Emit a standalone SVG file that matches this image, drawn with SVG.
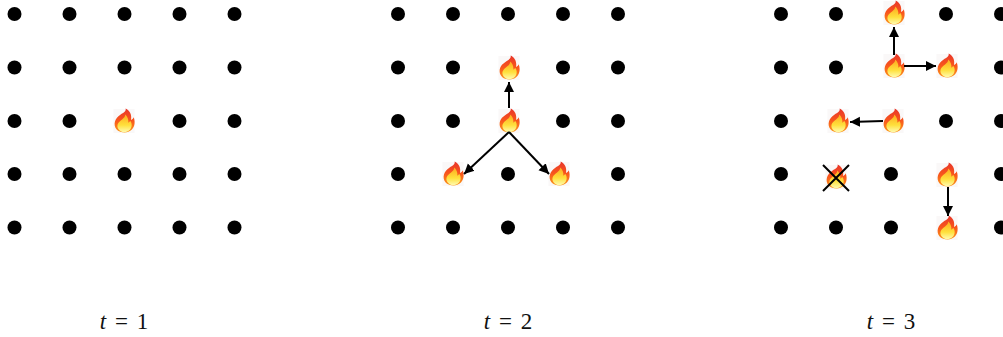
<svg xmlns="http://www.w3.org/2000/svg" xmlns:xlink="http://www.w3.org/1999/xlink" width="1003" height="337" viewBox="0 0 1003 337">
<style>
.d{fill:#000}
.c{fill:none;stroke:#000;stroke-width:2}
.a{marker-end:url(#ah)}
.t{font-family:"Liberation Serif","DejaVu Serif",serif;font-size:23px;word-spacing:3px;fill:#111;text-anchor:middle}
.i{font-style:italic}
</style>
<defs>
<marker id="ah" markerUnits="userSpaceOnUse" markerWidth="11" markerHeight="12" refX="10" refY="6" orient="auto"><path d="M0 1L10 6L0 11Z" fill="#000"/></marker>
<linearGradient id="fg" x1="0" y1="0" x2="0" y2="1"><stop offset="0" stop-color="#e8352a"/><stop offset=".5" stop-color="#f8561c"/><stop offset="1" stop-color="#fc9a1a"/></linearGradient>
<linearGradient id="fy" x1="0" y1="0" x2="0" y2="1"><stop offset="0" stop-color="#fda91e"/><stop offset=".6" stop-color="#ffe03c"/><stop offset="1" stop-color="#fffbb0"/></linearGradient>
<symbol id="fire" overflow="visible">
<rect x="-10.500" y="-12" width="21" height="24" fill="#faf8f8"/>
<g transform="translate(0 -0.500) scale(1.080)">
<path d="M1.500 -11C2.500 -7.500 -3 -6.500 -6.500 -2.500C-10 1.500 -9.500 8.500 -3.500 10.500C-1 11.200 2 11.200 4 10.500C9.500 8.500 11 2.500 9 -3C8.500 -1.500 7.500 -0.800 6.500 -0.500C7.500 -5.500 5 -9.500 1.500 -11Z" fill="url(#fg)"/>
<path d="M1 -5.500C1.500 -1.500 -4.500 -0.500 -6 4C-6.800 7.500 -3.500 10.800 0 10.800C4.500 10.800 7.800 7.500 7 3C6.800 1.800 6.200 0.800 5.500 0.300C5.300 1.300 4.800 1.800 4 2C4.500 -0.500 3.200 -4 1 -5.500Z" fill="url(#fy)"/>
</g>
</symbol>
</defs>
<g id="panel-1">
<g id="p1-dots" class="d">
<circle cx="14.500" cy="14" r="7"/><circle cx="69.500" cy="14" r="7"/><circle cx="124.500" cy="14" r="7"/><circle cx="179.500" cy="14" r="7"/><circle cx="234.500" cy="14" r="7"/>
<circle cx="14.500" cy="67.500" r="7"/><circle cx="69.500" cy="67.500" r="7"/><circle cx="124.500" cy="67.500" r="7"/><circle cx="179.500" cy="67.500" r="7"/><circle cx="234.500" cy="67.500" r="7"/>
<circle cx="14.500" cy="121" r="7"/><circle cx="69.500" cy="121" r="7"/><circle cx="179.500" cy="121" r="7"/><circle cx="234.500" cy="121" r="7"/>
<circle cx="14.500" cy="174" r="7"/><circle cx="69.500" cy="174" r="7"/><circle cx="124.500" cy="174" r="7"/><circle cx="179.500" cy="174" r="7"/><circle cx="234.500" cy="174" r="7"/>
<circle cx="14.500" cy="227.500" r="7"/><circle cx="69.500" cy="227.500" r="7"/><circle cx="124.500" cy="227.500" r="7"/><circle cx="179.500" cy="227.500" r="7"/><circle cx="234.500" cy="227.500" r="7"/>
</g>
<g id="p1-fire"><use xlink:href="#fire" href="#fire" x="124" y="121"/></g>
<text class="t" x="124" y="329"><tspan class="i">t</tspan> = 1</text>
</g>
<g id="panel-2">
<g id="p2-dots" class="d">
<circle cx="398" cy="14" r="7"/><circle cx="453" cy="14" r="7"/><circle cx="508" cy="14" r="7"/><circle cx="563" cy="14" r="7"/><circle cx="618" cy="14" r="7"/>
<circle cx="398" cy="67.500" r="7"/><circle cx="453" cy="67.500" r="7"/><circle cx="563" cy="67.500" r="7"/><circle cx="618" cy="67.500" r="7"/>
<circle cx="398" cy="121" r="7"/><circle cx="453" cy="121" r="7"/><circle cx="563" cy="121" r="7"/><circle cx="618" cy="121" r="7"/>
<circle cx="398" cy="174" r="7"/><circle cx="508" cy="174" r="7"/><circle cx="618" cy="174" r="7"/>
<circle cx="398" cy="227.500" r="7"/><circle cx="453" cy="227.500" r="7"/><circle cx="508" cy="227.500" r="7"/><circle cx="563" cy="227.500" r="7"/><circle cx="618" cy="227.500" r="7"/>
</g>
<g id="p2-fires">
<use xlink:href="#fire" href="#fire" x="509" y="68"/><use xlink:href="#fire" href="#fire" x="509" y="121"/><use xlink:href="#fire" href="#fire" x="453" y="174"/><use xlink:href="#fire" href="#fire" x="559" y="174"/>
</g>
<text class="t" x="508" y="329"><tspan class="i">t</tspan> = 2</text>
</g>
<g id="panel-3">
<g id="p3-dots" class="d">
<circle cx="781" cy="14" r="7"/><circle cx="836" cy="14" r="7"/><circle cx="946" cy="14" r="7"/><circle cx="1001" cy="14" r="7"/>
<circle cx="781" cy="67.500" r="7"/><circle cx="836" cy="67.500" r="7"/><circle cx="1001" cy="67.500" r="7"/>
<circle cx="781" cy="121" r="7"/><circle cx="946" cy="121" r="7"/><circle cx="1001" cy="121" r="7"/>
<circle cx="781" cy="174" r="7"/><circle cx="891" cy="174" r="7"/><circle cx="1001" cy="174" r="7"/>
<circle cx="781" cy="227.500" r="7"/><circle cx="836" cy="227.500" r="7"/><circle cx="891" cy="227.500" r="7"/><circle cx="1001" cy="227.500" r="7"/>
</g>
<g id="p3-fires">
<use xlink:href="#fire" href="#fire" x="894" y="13"/><use xlink:href="#fire" href="#fire" x="894" y="66"/><use xlink:href="#fire" href="#fire" x="947" y="66"/><use xlink:href="#fire" href="#fire" x="838" y="121"/><use xlink:href="#fire" href="#fire" x="893" y="121"/><use xlink:href="#fire" href="#fire" x="836" y="177"/><use xlink:href="#fire" href="#fire" x="947" y="175"/><use xlink:href="#fire" href="#fire" x="947" y="228"/>
</g>
<text class="t" x="891" y="329"><tspan class="i">t</tspan> = 3</text>
</g>
<g id="connectors">
<path class="c a" d="M509 108V82"/>
<path class="c a" d="M509 132L464 174"/>
<path class="c a" d="M509 132L549 174"/>
<path class="c a" d="M894 55V27"/>
<path class="c a" d="M904 66H936"/>
<path class="c a" d="M883 121L850 122"/>
<path class="c a" d="M948 187V216"/>
<path class="c" d="M823 165L849 191M849 165L823 191"/>
</g>
</svg>
